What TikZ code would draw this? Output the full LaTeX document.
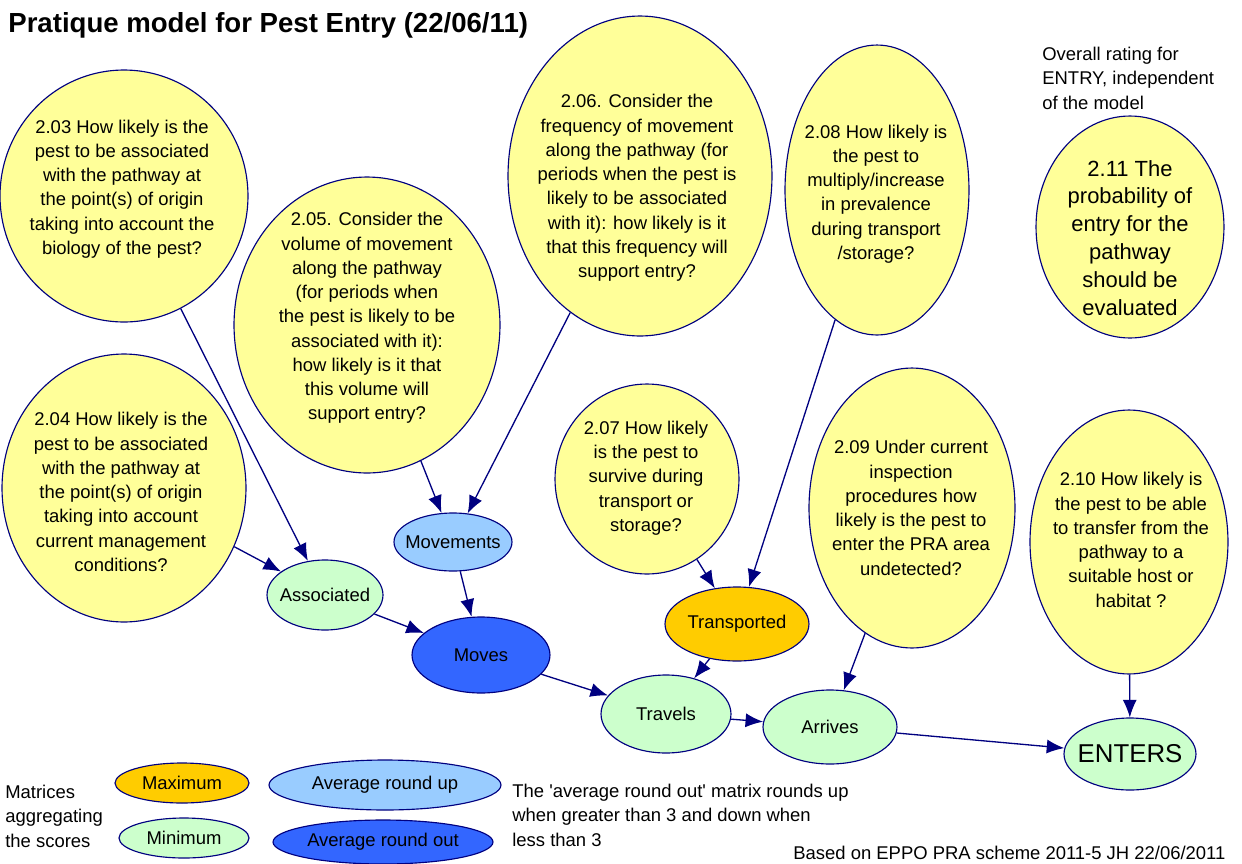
\documentclass[tikz,border=0pt]{standalone}
\usepackage{fontspec}
\setmainfont{Liberation Sans}
\usetikzlibrary{shapes.geometric,arrows.meta}
\definecolor{navyline}{HTML}{000080}
\definecolor{qyellow}{HTML}{FFFF99}
\definecolor{minfill}{HTML}{CCFFCC}
\definecolor{upfill}{HTML}{99CCFF}
\definecolor{outfill}{HTML}{3366FF}
\definecolor{maxfill}{HTML}{FFCC00}
\def\qfont{\fontsize{10.5}{13.8}\selectfont}
\def\nw#1{\makebox[0pt]{#1}}
\tikzset{
	question/.style={ellipse, draw=navyline, fill=qyellow, line width=0.65pt, inner sep=0pt},
	qtext/.style={align=center, inner sep=0pt, font=\qfont},
	state/.style={ellipse, draw=navyline, line width=0.65pt, inner sep=0pt, font=\qfont},
	plain/.style={align=left, inner sep=0pt, font=\qfont},
	link/.style={draw=navyline, line width=0.75pt, -{Latex[length=10pt,width=8pt]}},
}

\begin{document}
\begin{tikzpicture}[x=0.02cm, y=-0.02cm]
	%%%%% START %%%%%
	\useasboundingbox (0,0) rectangle (1242,863);
	
	\node[anchor=base west, inner sep=0pt, font=\fontsize{15.7}{18}\selectfont\bfseries] (title) at (8,32) {Pratique model for Pest Entry (22/06/11)};
	
	% question ellipses
	\node[question, minimum width=4.96cm, minimum height=5.04cm] (q203) at (124,196) {};
	\node[qtext] (q203t) at (122,189) {2.03 How likely is the\\pest to be associated\\with the pathway at\\the point(s) of origin\\taking into account the\\biology of the pest?};
	
	\node[question, minimum width=4.88cm, minimum height=5.36cm] (q204) at (124,488) {};
	\node[qtext] (q204t) at (121,492) {2.04 How likely is the\\pest to be associated\\with the pathway at\\the point(s) of origin\\taking into account\\current management\\conditions?};
	
	\node[question, minimum width=5.32cm, minimum height=5.92cm] (q205) at (367,325) {};
	\node[qtext] (q205t) at (367,318) {2.05. Consider the\\volume of movement\\along the pathway\\(for periods when\\the pest is likely to be\\associated with it):\\how likely is it that\\this volume will\\support entry?};
	
	\node[question, minimum width=5.28cm, minimum height=6.4cm] (q206) at (640,176) {};
	\node[qtext] (q206t) at (637,188) {2.06. Consider the\\frequency of movement\\along the pathway (for\\periods when the pest is\\likely to be associated\\with it): how likely is it\\that this frequency will\\support entry?};
	
	\node[question, minimum width=3.68cm, minimum height=5.8cm] (q208) at (877,190) {};
	\node[qtext] (q208t) at (876,194) {2.08 How likely is\\the pest to\\multiply/increase\\in prevalence\\during transport\\/storage?};
	
	\node[question, minimum width=3.76cm, minimum height=4.44cm] (q211) at (1130,227) {};
	\node[qtext, font=\fontsize{12.5}{15.9}\selectfont] (q211t) at (1130,238) {2.11 The\\probability of\\entry for the\\pathway\\should be\\evaluated};
	
	\node[question, minimum width=3.68cm, minimum height=3.8cm] (q207) at (647,479) {};
	\node[qtext] (q207t) at (646,478) {2.07 How likely\\is the pest to\\survive during\\transport or\\storage?};
	
	\node[question, minimum width=4.12cm, minimum height=5.6cm] (q209) at (912,508) {};
	\node[qtext] (q209t) at (911,508) {2.09 Under current\\inspection\\procedures how\\likely is the pest to\\enter the PRA area\\undetected?};
	
	\node[question, minimum width=3.96cm, minimum height=5.28cm] (q210) at (1129,542) {};
	\node[qtext] (q210t) at (1131,540) {2.10 How likely is\\the pest to be able\\to transfer from the\\pathway to a\\suitable host or\\habitat ?};
	
	% model states
	\node[state, fill=upfill, minimum width=2.36cm, minimum height=1.16cm] (movements) at (453,542) {\nw{Movements}};
	\node[state, fill=minfill, minimum width=2.32cm, minimum height=1.4cm] (associated) at (325,595) {\nw{Associated}};
	\node[state, fill=outfill, minimum width=2.76cm, minimum height=1.52cm] (moves) at (481,655) {\nw{Moves}};
	\node[state, fill=maxfill, minimum width=2.88cm, minimum height=1.48cm] (transported) at (737,624) {\nw{Transported}};
	\node[state, fill=minfill, minimum width=2.6cm, minimum height=1.56cm] (travels) at (666,714) {\nw{Travels}};
	\node[state, fill=minfill, minimum width=2.68cm, minimum height=1.48cm] (arrives) at (830,727) {\nw{Arrives}};
	\node[state, fill=minfill, minimum width=2.64cm, minimum height=1.44cm, font=\fontsize{14.7}{17}\selectfont] (enters) at (1130,754) {\nw{ENTERS}};
	
	% links
	\draw[link] (q203) -- (associated);
	\draw[link] (q204) -- (associated);
	\draw[link] (q205) -- (movements);
	\draw[link] (q206) -- (movements);
	\draw[link] (movements) -- (moves);
	\draw[link] (associated) -- (moves);
	\draw[link] (moves) -- (travels);
	\draw[link] (q207) -- (transported);
	\draw[link] (q208) -- (transported);
	\draw[link] (transported) -- (travels);
	\draw[link] (travels) -- (arrives);
	\draw[link] (q209) -- (arrives);
	\draw[link] (arrives) -- (enters);
	\draw[link] (q210) -- (enters);
	
	% notes and legend
	\node[plain, anchor=north west] (overall) at (1042,47) {Overall rating for\\ENTRY, independent\\of the model};
	\node[plain, anchor=north west] (matrices) at (5,785) {Matrices\\aggregating\\the scores};
	\node[state, fill=maxfill, minimum width=2.68cm, minimum height=0.8cm] (legmax) at (182,783) {\nw{Maximum}};
	\node[state, fill=minfill, minimum width=2.6cm, minimum height=0.8cm] (legmin) at (184,838) {\nw{Minimum}};
	\node[state, fill=upfill, minimum width=4.64cm, minimum height=1.0cm] (legup) at (385,785) {\nw{Average round up}};
	\node[state, fill=outfill, minimum width=4.4cm, minimum height=0.88cm] (legout) at (383,842) {\nw{Average round out}};
	\node[plain, anchor=north west] (roundnote) at (512,784) {The \textquotesingle average round out\textquotesingle{} matrix rounds up\\when greater than 3 and down when\\less than 3};
	\node[plain, anchor=base west] (source) at (793,859) {Based on EPPO PRA scheme 2011-5 JH 22/06/2011};
	
	%%%%% END %%%%%
\end{tikzpicture}
\end{document}
